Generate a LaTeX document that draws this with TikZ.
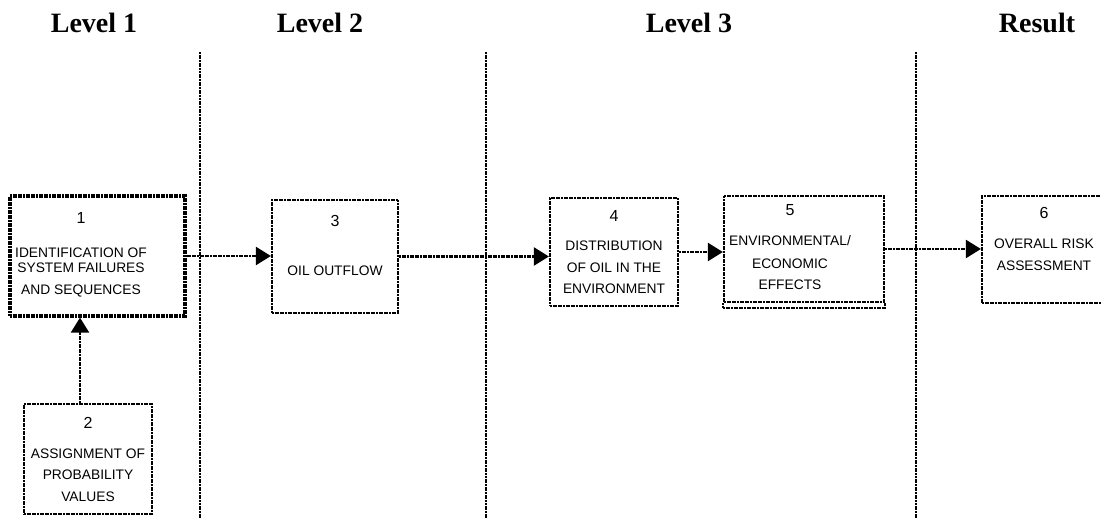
\documentclass[tikz,border=0pt]{standalone}
\usepackage{fontspec}
\setmainfont{Liberation Serif}
\setsansfont{Liberation Sans}
\usetikzlibrary{arrows.meta, positioning}
\newcommand{\stepno}[1]{{\fontsize{16}{15}\selectfont #1}}
\tikzset{
    levelhead/.style={anchor=base, font=\fontsize{28}{30}\selectfont\bfseries},
    dotline/.style={line width=2.2pt, dash pattern=on 2pt off 0.6pt},
    stepbox/.style={rectangle, draw=black, dotline, align=center, inner sep=0pt,
        font=\sffamily\fontsize{13.8}{15}\selectfont},
    flowarrow/.style={-{Triangle[length=15pt, width=18pt]}, dotline},
    divider/.style={line width=1.4pt, dash pattern=on 2pt off 0.7pt},
}

\begin{document}
\begin{tikzpicture}[x=1pt, y=-1pt]
    \useasboundingbox (0,0) rectangle (1101,518);
    \clip (0,0) rectangle (1101,518);
    % column heads
    \node[levelhead] (head1) at (94,33) {Level 1};
    \node[levelhead] (head2) at (320,33) {Level 2};
    \node[levelhead] (head3) at (689,33) {Level 3};
    \node[levelhead] (head4) at (1037,33) {Result};
    % level dividers
    \foreach \xd in {200, 486, 916}
        \draw[divider] (\xd,52) -- (\xd,518);
    % steps
    \node[stepbox, line width=3.2pt, minimum width=175pt, minimum height=120pt] (b1) at (97.5,256)
        {\begin{tabular}{@{}c@{}}\stepno{1}\\[19pt]IDENTIFICATION OF\\SYSTEM FAILURES\\[7pt]AND  SEQUENCES\end{tabular}\hspace{33pt}};
    \node[stepbox, minimum width=128pt, minimum height=110pt] (b2) at (88,459)
        {\stepno{2}\\[15pt]ASSIGNMENT OF\\[6pt]PROBABILITY\\[7pt]VALUES};
    \node[stepbox, minimum width=126pt, minimum height=113pt] (b3) at (335,256.5)
        {\stepno{3}\\[34pt]OIL OUTFLOW\\[7pt]~};
    \node[stepbox, minimum width=128pt, minimum height=108pt] (b4) at (614,252)
        {\stepno{4}\\[14pt]DISTRIBUTION\\[7pt]OF OIL IN THE\\[6pt]ENVIRONMENT};
    \node[stepbox, minimum width=160pt, minimum height=106pt] (b5) at (804,249)
        {\begin{tabular}{@{}c@{}}\stepno{5}\\[15pt]ENVIRONMENTAL/\\[8pt]ECONOMIC\\[6pt]EFFECTS\end{tabular}\hspace{28pt}};
    \draw[dotline] (b5.south west) -- ++(0,5) -| (b5.south east);
    \node[stepbox, minimum width=124pt, minimum height=107pt] (b6) at (1044,249.5)
        {\stepno{6}\\[15pt]OVERALL RISK\\[7pt]ASSESSMENT\\[7pt]~};
    % flow
    \draw[flowarrow] ([xshift=-8pt]b2.north) -- ([xshift=-8pt]b2.north |- b1.south);
    \draw[flowarrow] (b1.east) -- (b1.east -| b3.west);
    \draw[flowarrow] (b3.east) -- (b3.east -| b4.west);
    \draw[flowarrow] (b4.east) -- (b4.east -| b5.west);
    \draw[flowarrow] (b5.east) -- (b5.east -| b6.west);
\end{tikzpicture}
\end{document}
